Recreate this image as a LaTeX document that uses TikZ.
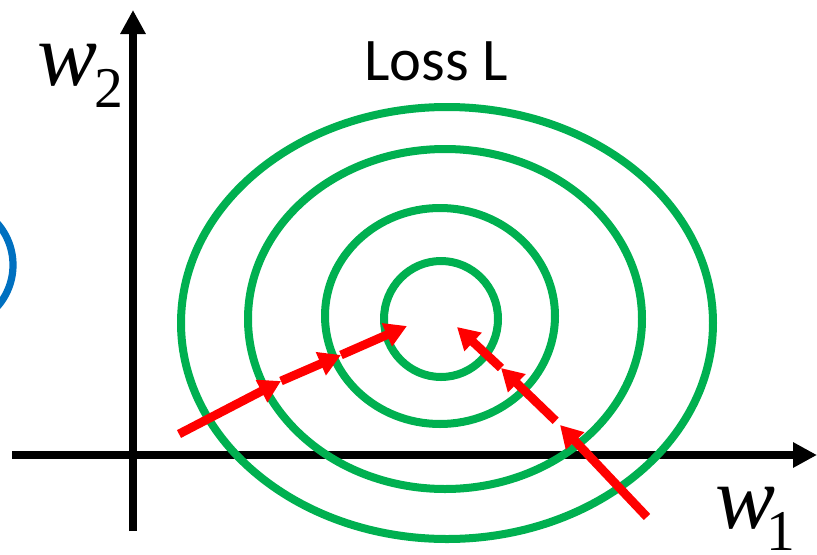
\documentclass[tikz,border=0pt]{standalone}
\usepackage{fontspec}
\setmainfont{Liberation Serif}
\newfontfamily\losssans{Carlito}
\usetikzlibrary{arrows.meta}
\definecolor{contourgreen}{RGB}{0,176,80}
\definecolor{stepred}{RGB}{255,0,0}
\definecolor{ridgeblue}{RGB}{0,112,192}

\begin{document}
\begin{tikzpicture}[x=0.025cm, y=-0.025cm,
    axisline/.style={line width=0.2cm, -{Triangle[length=0.6cm, width=0.6cm]}},
    contour/.style={draw=contourgreen, line width=0.2cm},
    gdstep/.style={draw=stepred, line width=0.22cm, -{Triangle[length=0.55cm, width=0.6cm]}},
    varlabel/.style={anchor=base west, inner sep=0pt, font=\fontsize{64}{64}\selectfont\itshape}]
    \useasboundingbox (0,0) rectangle (817,554);

    % part of the blue circle, cut by the left edge
    \begin{scope}
      \clip (0,0) rectangle (817,554);
      \draw[ridgeblue, line width=0.18cm] (-50,265) circle [radius=63];
    \end{scope}

    % axes
    \coordinate (ybottom) at (133,531);
    \coordinate (ytop) at (133,10);
    \coordinate (xleft) at (12,455);
    \coordinate (xright) at (817,455);
    \draw[axisline] (ybottom) -- (ytop);
    \draw[axisline] (xleft) -- (xright);

    % contours of the loss
    \draw[contour] (447,323) ellipse [x radius=266, y radius=216];
    \draw[contour] (445,319) ellipse [x radius=197, y radius=170];
    \draw[contour] (440,316) ellipse [x radius=115, y radius=108];
    \draw[contour] (441,319) ellipse [x radius=57, y radius=58];

    % descent steps from the left
    \coordinate (a0) at (179,434);
    \coordinate (a1) at (281,381);
    \coordinate (a2) at (341,355);
    \coordinate (a3) at (407,326);
    \draw[gdstep] (a0) -- (a1);
    \draw[gdstep] (a1) -- (a2);
    \draw[gdstep] (a2) -- (a3);

    % descent steps from the right
    \coordinate (b0) at (647,517);
    \coordinate (b1) at (560,425);
    \coordinate (b2) at (501,368);
    \coordinate (b3) at (457,327);
    \draw[gdstep] (b0) -- (b1);
    \draw[gdstep, shorten <=0.15cm] (b1) -- (b2);
    \draw[gdstep] (b2) -- (b3);

    % labels
    \node[anchor=base, inner sep=0pt, font=\losssans\fontsize{43}{43}\selectfont] (losslabel) at (436,80) {Loss L};
    \node[varlabel] (wtwo) at (37,85)
      {w\kern-0.08cm\raisebox{-0.55cm}{\fontsize{41}{41}\selectfont\upshape 2}};
    \node[varlabel] (wone) at (715,528)
      {w\kern-0.22cm\raisebox{-0.55cm}{\fontsize{41}{41}\selectfont\upshape 1}};
\end{tikzpicture}
\end{document}
